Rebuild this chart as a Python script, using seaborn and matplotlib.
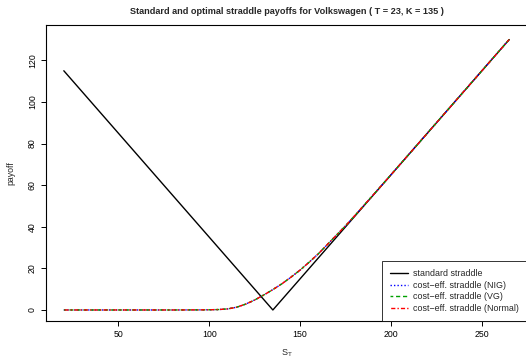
import matplotlib
matplotlib.use("Agg")
import matplotlib.pyplot as plt
import seaborn as sns
import pandas as pd

# standard straddle payoff |S_T - K| at its kinks
std_s = [20, 135, 265]
std_payoff = [115, 0, 130]

# cost-efficient straddle payoffs (the three models overlap)
ce_s = [20, 40, 60, 80, 95, 100, 105, 110, 115, 120, 125, 130, 135, 140, 145,
        150, 155, 160, 165, 170, 175, 180, 190, 200, 220, 240, 265]
ce_nig = [0, 0, 0, 0, 0.05, 0.1, 0.2, 0.5, 1.3, 2.8, 4.8, 7.2, 9.8, 12.6, 15.8,
          19.2, 23.0, 27.0, 31.5, 36.0, 40.5, 45.3, 55.1, 65.0, 85.0, 105.0, 130.0]
ce_vg = [0, 0, 0, 0, 0.05, 0.1, 0.2, 0.5, 1.3, 2.8, 4.8, 7.2, 9.8, 12.6, 15.8,
         19.2, 23.0, 27.0, 31.5, 36.0, 40.5, 45.3, 55.1, 65.0, 85.0, 105.0, 130.0]
ce_normal = [0, 0, 0, 0, 0.05, 0.1, 0.2, 0.5, 1.3, 2.8, 4.8, 7.2, 9.8, 12.6, 15.8,
             19.2, 23.0, 27.0, 31.5, 36.0, 40.5, 45.3, 55.1, 65.0, 85.0, 105.0, 130.0]

sns.set_style("ticks")
plt.rcParams["font.family"] = ["Liberation Sans", "DejaVu Sans"]
plt.rcParams["mathtext.fontset"] = "custom"
plt.rcParams["mathtext.rm"] = "Liberation Sans"

fig = plt.figure(figsize=(5.26, 3.62), dpi=100)
ax = fig.add_axes([46 / 526, 1 - 321 / 362, 481 / 526, 296 / 362])

df_std = pd.DataFrame({"s": std_s, "payoff": std_payoff})
sns.lineplot(data=df_std, x="s", y="payoff", ax=ax, color="black", lw=1.0,
             label="standard straddle")
sns.lineplot(x=ce_s, y=ce_nig, ax=ax, color="#0000ff", lw=1.0, linestyle=(0, (1, 1.5)),
             label="cost\u2212eff. straddle (NIG)")
sns.lineplot(x=ce_s, y=ce_vg, ax=ax, color="#00a000", lw=1.0, linestyle=(1, (3, 2)),
             label="cost\u2212eff. straddle (VG)")
sns.lineplot(x=ce_s, y=ce_normal, ax=ax, color="#ff0000", lw=1.0, linestyle=(2, (1, 1.5, 3, 1.5)),
             label="cost\u2212eff. straddle (Normal)")

ax.set_xlim(10.2, 274.8)
ax.set_ylim(-5.3, 137.0)
ax.set_xticks([50, 100, 150, 200, 250])
ax.set_yticks([0, 20, 40, 60, 80, 100, 120])
for sp in ax.spines.values():
    sp.set_visible(True)
    sp.set_linewidth(0.8)
    sp.set_color("black")
ax.tick_params(axis="both", direction="out", length=3.6, width=0.7, pad=3,
               labelsize=6.3, colors="black")
for lab in ax.get_yticklabels():
    lab.set_rotation(90)
    lab.set_va("center")

ax.set_xlabel(r"$\mathregular{S_T}$", fontsize=6.5, labelpad=6)
ax.set_ylabel("payoff", fontsize=6.3, labelpad=9)
ax.set_title("Standard and optimal straddle payoffs for Volkswagen ( T = 23, K = 135 )",
             fontsize=6.6, fontweight="bold", pad=8)

leg = ax.legend(loc="lower right", fontsize=6.4, frameon=True, fancybox=False,
                borderaxespad=0, handlelength=2.0, labelspacing=0.3,
                borderpad=0.9, handletextpad=0.6)
leg.get_frame().set_edgecolor("black")
leg.get_frame().set_linewidth(0.7)

fig.savefig("out.png", dpi=100)
